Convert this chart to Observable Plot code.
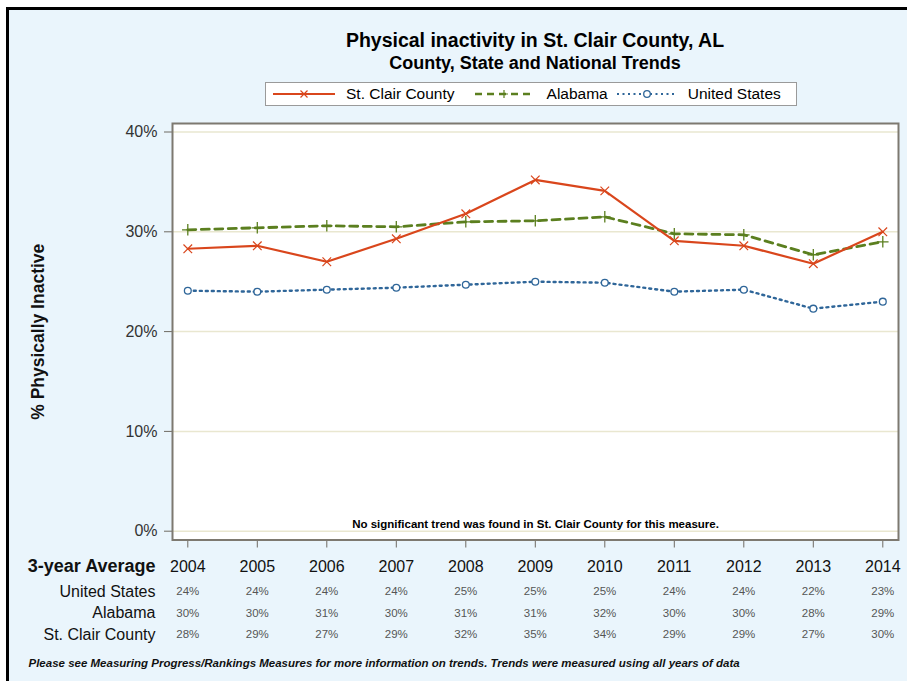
<!DOCTYPE html>
<html>
<head>
<meta charset="utf-8">
<script src="https://cdn.jsdelivr.net/npm/d3@7"></script>
<script src="https://cdn.jsdelivr.net/npm/@observablehq/plot@0.6"></script>
<style>
html, body { margin: 0; padding: 0; background: #ffffff; }
#wrap {
  position: absolute; left: 6px; top: 7px; width: 898px; height: 671px;
  border-top: 3px solid #000; border-left: 3px solid #000;
  background: #eaf5fc; overflow: hidden;
  font-family: "Liberation Sans", Arial, Helvetica, sans-serif; color: #000;
}
#header { position: relative; height: 103px; }
.title { position: absolute; left: 226px; width: 600px; text-align: center; font-weight: bold; line-height: 20px; }
#t1 { top: 20px; font-size: 19.5px; }
#t2 { top: 43px; font-size: 18px; }
#legend {
  position: absolute; left: 256px; top: 72px; width: 532px; height: 24px; box-sizing: border-box;
  border: 1px solid #9a9a9a; background: #fff; display: flex; align-items: center;
  font-size: 15.5px; padding-left: 7px;
}
#legend svg { display: block; }
#chart svg { display: block; }
</style>
</head>
<body>
<div id="wrap">
  <div id="header">
    <div class="title" id="t1"></div>
    <div class="title" id="t2"></div>
    <div id="legend"></div>
  </div>
  <div id="chart"></div>
</div>
<script>
const titleText = "Physical inactivity in St. Clair County, AL";
const subtitleText = "County, State and National Trends";
const years = [2004, 2005, 2006, 2007, 2008, 2009, 2010, 2011, 2012, 2013, 2014];
const stClair = [28.3, 28.6, 27.0, 29.3, 31.8, 35.2, 34.1, 29.1, 28.6, 26.8, 30.0];
const alabama = [30.2, 30.4, 30.6, 30.5, 31.0, 31.1, 31.5, 29.8, 29.7, 27.7, 29.0];
const unitedStates = [24.1, 24.0, 24.2, 24.4, 24.7, 25.0, 24.9, 24.0, 24.2, 22.3, 23.0];
const usTable = [24, 24, 24, 24, 25, 25, 25, 24, 24, 22, 23];
const alTable = [30, 30, 31, 30, 31, 31, 32, 30, 30, 28, 29];
const scTable = [28, 29, 27, 29, 32, 35, 34, 29, 29, 27, 30];
const yTicks = [0, 10, 20, 30, 40];
const seriesNames = ["St. Clair County", "Alabama", "United States"];
const seriesColors = ["#d9461c", "#5b7f1f", "#2f6699"];
const rowLabels = ["United States", "Alabama", "St. Clair County"];
const tableHeader = "3-year Average";
const yLabel = "% Physically Inactive";
const note = "No significant trend was found in St. Clair County for this measure.";
const footnote = "Please see Measuring Progress/Rankings Measures for more information on trends. Trends were measured using all years of data";

document.getElementById("t1").textContent = titleText;
document.getElementById("t2").textContent = subtitleText;

// legend
const legendSpec = [
  {name: seriesNames[0], color: seriesColors[0], w: 62, before: 0, gapText: 11, dash: null, sw: 2.2, sym: "times"},
  {name: seriesNames[1], color: seriesColors[1], w: 58, before: 20, gapText: 14, dash: "7,5", sw: 2.6, sym: "plus"},
  {name: seriesNames[2], color: seriesColors[2], w: 60, before: 9, gapText: 11, dash: "2,3.5", sw: 2.2, sym: "circle"}
];
const legend = document.getElementById("legend");
legendSpec.forEach(s => {
  const ns = "http://www.w3.org/2000/svg";
  const svg = document.createElementNS(ns, "svg");
  svg.setAttribute("width", s.w); svg.setAttribute("height", 14);
  svg.style.marginLeft = s.before + "px";
  const ln = document.createElementNS(ns, "line");
  ln.setAttribute("x1", 0); ln.setAttribute("x2", s.w); ln.setAttribute("y1", 7); ln.setAttribute("y2", 7);
  ln.setAttribute("stroke", s.color); ln.setAttribute("stroke-width", s.sw);
  if (s.dash) ln.setAttribute("stroke-dasharray", s.dash);
  svg.appendChild(ln);
  const c = s.w / 2;
  if (s.sym === "circle") {
    const ci = document.createElementNS(ns, "circle");
    ci.setAttribute("cx", c); ci.setAttribute("cy", 7); ci.setAttribute("r", 3.3);
    ci.setAttribute("fill", "#fff"); ci.setAttribute("stroke", s.color); ci.setAttribute("stroke-width", 1.3);
    svg.appendChild(ci);
  } else {
    const p = document.createElementNS(ns, "path");
    const d = s.sym === "times"
      ? `M${c-3.5},3.5L${c+3.5},10.5M${c-3.5},10.5L${c+3.5},3.5`
      : `M${c-4},7L${c+4},7M${c},3L${c},11`;
    p.setAttribute("d", d); p.setAttribute("stroke", s.color); p.setAttribute("stroke-width", 1.2);
    svg.appendChild(p);
  }
  legend.appendChild(svg);
  const t = document.createElement("span");
  t.textContent = s.name; t.style.marginLeft = s.gapText + "px";
  legend.appendChild(t);
});

const seriesValues = [stClair, alabama, unitedStates];
const rows = [];
seriesNames.forEach((s, i) => years.forEach((yr, j) => rows.push({series: s, year: yr, value: seriesValues[i][j]})));
const bySeries = name => rows.filter(d => d.series === name);

const tables = [usTable, alTable, scTable];
const rowDy = [51.5, 73, 94.5];

const marks = [
  Plot.frame({fill: "#ffffff"}),
  Plot.gridY(yTicks, {stroke: "#e9e7d0", strokeOpacity: 1, strokeWidth: 1.5}),
  Plot.axisY(yTicks, {tickFormat: d => d + "%", tickSize: 8, tickPadding: 7, fontSize: 16, stroke: "#6e6a62", fill: "#333", label: null}),
  Plot.axisX(years, {tickFormat: d => String(d), tickSize: 8, tickPadding: 12.5, fontSize: 16, stroke: "#6e6a62", fill: "#111", label: null}),
  // series lines
  Plot.line(bySeries(seriesNames[1]), {x: "year", y: "value", stroke: seriesColors[1], strokeWidth: 2.8, strokeDasharray: "8,5.5"}),
  Plot.line(bySeries(seriesNames[2]), {x: "year", y: "value", stroke: seriesColors[2], strokeWidth: 2.4, strokeDasharray: "2,4"}),
  Plot.line(bySeries(seriesNames[0]), {x: "year", y: "value", stroke: seriesColors[0], strokeWidth: 2.2}),
  Plot.dot(bySeries(seriesNames[1]), {x: "year", y: "value", symbol: "plus", r: 3.8, stroke: seriesColors[1], strokeWidth: 1.3}),
  Plot.dot(bySeries(seriesNames[2]), {x: "year", y: "value", symbol: "circle", r: 3.4, fill: "#fff", stroke: seriesColors[2], strokeWidth: 1.3}),
  Plot.dot(bySeries(seriesNames[0]), {x: "year", y: "value", symbol: "times", r: 4, stroke: seriesColors[0], strokeWidth: 1.2}),
  Plot.frame({stroke: "#7d7970", strokeWidth: 2}),
  // annotation
  Plot.text([note], {text: d => d, frameAnchor: "bottom", lineAnchor: "middle", dy: -15.5, fontSize: 11.5, fontWeight: "bold", fill: "#000"}),
  // y label
  Plot.text([yLabel], {text: d => d, frameAnchor: "left", textAnchor: "middle", lineAnchor: "middle", dx: -134, rotate: -90, fontSize: 17.5, fontWeight: "bold", fill: "#111"}),
  // table header
  Plot.text([tableHeader], {text: d => d, frameAnchor: "bottom-left", lineAnchor: "middle", dx: -17, dy: 26.5, textAnchor: "end", fontSize: 18, fontWeight: "bold", fill: "#111"}),
  // footnote
  Plot.text([footnote], {text: d => d, frameAnchor: "bottom-left", lineAnchor: "middle", dx: -144, dy: 123, textAnchor: "start", fontSize: 11.5, fontWeight: "bold", fontStyle: "italic", fill: "#111"})
];
rowLabels.forEach((lab, i) => {
  marks.push(Plot.text([lab], {text: d => d, frameAnchor: "bottom-left", lineAnchor: "middle", dx: -17, dy: rowDy[i], textAnchor: "end", fontSize: 16, fill: "#111"}));
  marks.push(Plot.text(years, {x: d => d, text: (d, j) => tables[i][j] + "%", frameAnchor: "bottom", lineAnchor: "middle", dy: rowDy[i], fontSize: 11.5, fill: "#555"}));
});

const chart = Plot.plot({
  width: 898, height: 568,
  marginLeft: 163, marginRight: 9, marginTop: 10, marginBottom: 141.5,
  x: {domain: [2004, 2014], insetLeft: 15.3, insetRight: 15.7},
  y: {domain: [0, 40], insetTop: 8.5, insetBottom: 8.8},
  style: {background: "transparent", fontFamily: "'Liberation Sans', Arial, sans-serif", overflow: "visible"},
  marks
});
document.getElementById("chart").appendChild(chart);
</script>
</body>
</html>
